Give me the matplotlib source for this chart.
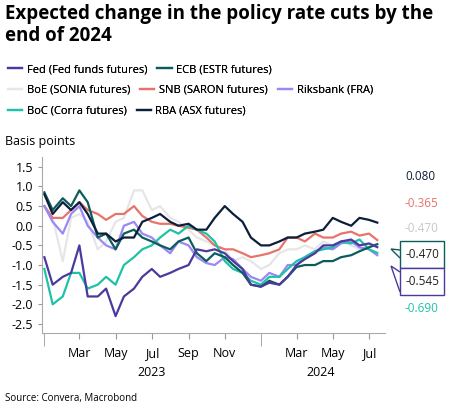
import matplotlib
matplotlib.use("Agg")
import matplotlib.pyplot as plt
import matplotlib.dates as mdates
import pandas as pd
from matplotlib.patches import Rectangle, Polygon

plt.rcParams['font.family'] = ['Open Sans', 'DejaVu Sans']

dates = pd.date_range("2023-01-01", "2024-07-16", freq="SMS")
fed = [-0.8,-1.5,-1.3,-1.2,-0.5,-1.8,-1.8,-1.6,-2.3,-1.8,-1.6,-1.3,-1.1,-1.3,-1.2,-1.1,-1.0,-0.6,-0.65,-0.6,-0.7,-0.9,-1.1,-1.5,-1.55,-1.45,-1.5,-1.3,-1.0,-0.85,-0.7,-0.5,-0.5,-0.4,-0.35,-0.5,-0.45,-0.545]
ecb = [0.85,0.4,0.7,0.5,0.9,0.6,-0.3,-0.2,-0.6,-0.2,-0.1,-0.3,-0.4,-0.5,-0.6,-0.4,-0.3,-0.7,-0.9,-0.7,-0.8,-1.0,-1.2,-1.5,-1.55,-1.4,-1.5,-1.3,-1.05,-1.0,-1.0,-0.9,-0.9,-0.8,-0.75,-0.65,-0.55,-0.47]
boe = [0.5,0.2,-0.9,0.2,0.3,0.1,-0.6,-0.4,0.1,0.2,0.9,0.9,0.4,0.5,0.2,0.1,-0.1,-0.3,-0.4,-0.5,-0.6,-0.9,-0.8,-0.9,-1.1,-1.0,-0.7,-0.6,-0.6,-0.5,-0.6,-0.4,-0.5,-0.4,-0.5,-0.6,-0.5,-0.47]
snb = [0.5,0.2,0.2,0.4,0.6,0.4,0.3,0.15,0.3,0.3,0.5,0.25,0.1,0.05,0.05,0.0,-0.05,-0.1,-0.3,-0.5,-0.6,-0.6,-0.7,-0.8,-0.75,-0.7,-0.6,-0.3,-0.3,-0.4,-0.2,-0.3,-0.3,-0.2,-0.15,-0.25,-0.2,-0.365]
riks = [0.5,0.1,-0.2,0.3,0.5,0.0,-0.3,-0.5,-0.6,0.0,0.1,-0.2,-0.3,-0.5,-0.7,-0.4,-0.5,-0.8,-0.95,-1.0,-0.8,-0.85,-1.1,-1.3,-1.4,-1.2,-1.3,-1.0,-1.0,-0.8,-0.65,-0.55,-0.6,-0.45,-0.4,-0.55,-0.6,-0.75]
boc = [-1.1,-2.0,-1.8,-1.2,-1.2,-1.6,-1.5,-1.3,-1.5,-1.0,-0.8,-0.6,-0.5,-0.3,-0.1,-0.2,0.0,-0.1,-0.2,-0.4,-0.9,-1.1,-1.2,-1.4,-1.5,-1.3,-1.3,-1.1,-0.9,-0.8,-0.65,-0.6,-0.55,-0.4,-0.45,-0.35,-0.6,-0.69]
rba = [0.8,0.3,0.6,0.4,0.6,0.3,-0.2,-0.2,-0.4,-0.3,-0.3,0.1,0.2,0.3,0.1,0.0,0.05,-0.1,-0.1,0.2,0.5,0.3,0.1,-0.3,-0.5,-0.5,-0.4,-0.3,-0.3,-0.2,-0.15,-0.1,0.2,0.1,0.0,0.2,0.15,0.08]

names = ["Fed (Fed funds futures)", "ECB (ESTR futures)", "BoE (SONIA futures)", "SNB (SARON futures)",
         "Riksbank (FRA)", "BoC (Corra futures)", "RBA (ASX futures)"]
colors = ["#4b3a9e", "#0d5c5c", "#e6e6e6", "#e8736b", "#9b87f5", "#1fc2a7", "#0b1f3a"]
series = [fed, ecb, boe, snb, riks, boc, rba]

fig = plt.figure(figsize=(4.53, 4.17), dpi=100)
ax = fig.add_axes([42/453, 1-333/417, (385-42)/453, (333-157)/417])
order = [2, 3, 4, 5, 1, 0, 6]
lines = {}
for i in order:
    lines[i], = ax.plot(dates, series[i], color=colors[i], lw=1.6, label=names[i])
ax.set_ylim(-2.73, 1.75)
ax.set_xlim(pd.Timestamp("2022-12-28"), pd.Timestamp("2024-07-28"))
yt = [1.5,1.0,0.5,0.0,-0.5,-1.0,-1.5,-2.0,-2.5]
ax.set_yticks(yt)
ax.set_yticklabels([f"{v:.1f}" for v in yt], fontsize=9)
ax.xaxis.set_major_locator(mdates.MonthLocator(bymonth=[3,5,7,9,11]))
ax.xaxis.set_major_formatter(mdates.DateFormatter("%b"))
ax.xaxis.set_minor_locator(mdates.MonthLocator(bymonth=[1], bymonthday=1))
ax.tick_params(axis='x', which='major', labelsize=9, pad=6, length=4, color="#999999")
ax.tick_params(axis='x', which='minor', length=9, color="#999999")
ax.tick_params(axis='y', length=3, color="#999999")
for s in ["top", "right"]:
    ax.spines[s].set_visible(False)
for s in ["left", "bottom"]:
    ax.spines[s].set_color("#aaaaaa")
ax.set_facecolor("none")
ax.text(pd.Timestamp("2023-07-01"), -0.19, "2023", transform=ax.get_xaxis_transform(), ha="center", va="top", fontsize=9)
ax.text(pd.Timestamp("2024-04-10"), -0.19, "2024", transform=ax.get_xaxis_transform(), ha="center", va="top", fontsize=9)

fig.text(0.012, 0.99, "Expected change in the policy rate cuts by the\nend of 2024", fontsize=13.5, fontweight="bold", va="top", linespacing=1.1)
rows = [[0, 1], [2, 3, 4], [5, 6]]
for r, idx in enumerate(rows):
    leg = fig.legend(handles=[lines[i] for i in idx], labels=[names[i] for i in idx], loc="upper left",
                     bbox_to_anchor=(0.0, 0.865 - r*0.05), ncol=len(idx), fontsize=8, frameon=False,
                     handlelength=1.3, handletextpad=0.4, columnspacing=0.9, borderaxespad=0.3)
    fig.add_artist(leg)
fig.text(0.012, 0.645, "Basis points", fontsize=9, va="bottom")
fig.text(0.012, 0.045, "Source: Convera, Macrobond", fontsize=7, va="center")

lab = [("0.080", 176, colors[6]), ("-0.365", 203, colors[3]), ("-0.470", 228, "#c8c8c8"),
       ("-0.690", 308, colors[5])]
for t, y, c in lab:
    fig.text(405/453, 1-y/417, t, fontsize=8.5, color=c, va="center")
for t, y0, y1, c, tip in [("-0.470", 241, 268, colors[1], (391, 248)), ("-0.545", 268, 295, colors[0], (391, 266))]:
    fig.patches.append(Rectangle((400/453, 1-y1/417), 44/453, (y1-y0)/417, transform=fig.transFigure,
                                 fill=True, facecolor="white", edgecolor=c, lw=1))
    fig.text(406/453, 1-(y0+y1)/2/417, t, fontsize=8.5, color="#222222", va="center")
fig.patches.append(Polygon([(400/453, 1-250/417), (391/453, 1-249/417), (400/453, 1-258/417)], closed=False,
                           transform=fig.transFigure, fill=False, edgecolor=colors[1], lw=1))
fig.patches.append(Polygon([(400/453, 1-272/417), (391/453, 1-266/417), (400/453, 1-292/417)], closed=False,
                           transform=fig.transFigure, fill=False, edgecolor=colors[0], lw=1))
fig.savefig("out.png", dpi=100)
